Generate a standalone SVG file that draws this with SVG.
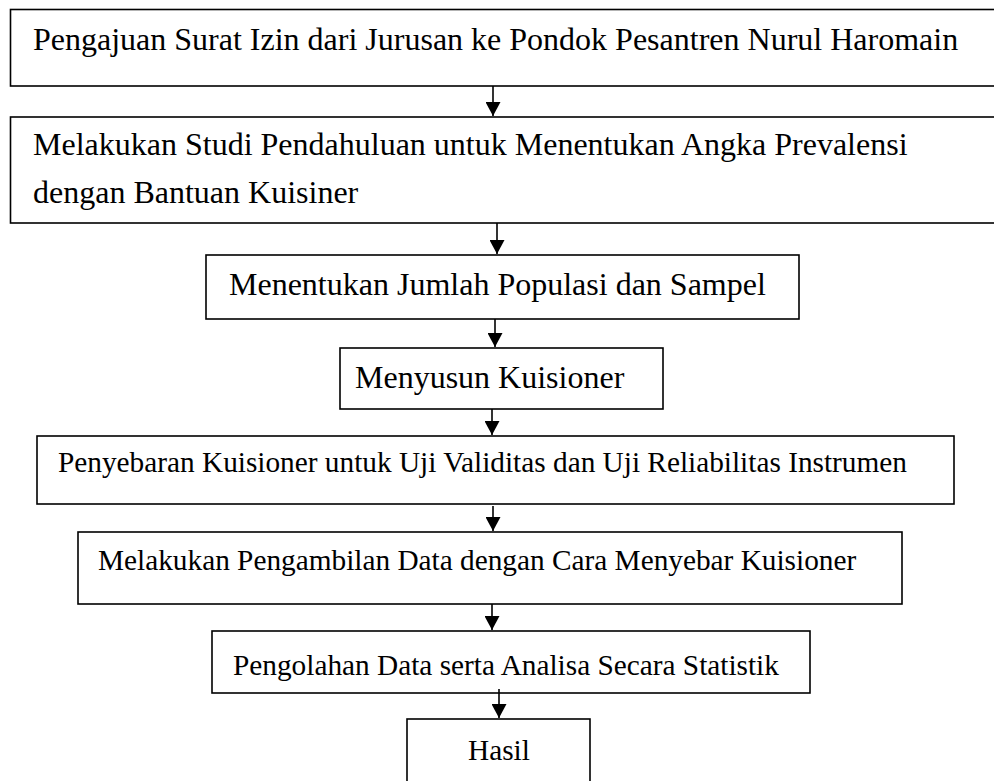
<svg xmlns="http://www.w3.org/2000/svg" width="994" height="781" viewBox="0 0 994 781">
<defs>
<style>
.box{fill:#fff;stroke:#000;stroke-width:1.6}
.t{font-family:"Liberation Serif","Times New Roman",serif;fill:#000}
.big{font-size:32px}
.sm{font-size:29.3px}
.c{stroke:#000;stroke-width:1.6;fill:none;marker-end:url(#ah)}
</style>
<marker id="ah" markerUnits="userSpaceOnUse" markerWidth="15" markerHeight="15" refX="14" refY="7.5" orient="auto">
<path d="M0,0 L14,7.5 L0,15 z" fill="#000"/>
</marker>
</defs>
<rect width="994" height="781" fill="#fff"/>
<g id="n1"><rect class="box" x="10.5" y="9.5" width="1000" height="76.5"/><text class="t big" x="33" y="50">Pengajuan Surat Izin dari Jurusan ke Pondok Pesantren Nurul Haromain</text></g>
<g id="n2"><rect class="box" x="10.5" y="117" width="1000" height="106"/><text class="t big" x="33" y="155">Melakukan Studi Pendahuluan untuk Menentukan Angka Prevalensi</text><text class="t big" x="33" y="203">dengan Bantuan Kuisiner</text></g>
<g id="n3"><rect class="box" x="206" y="255" width="593" height="64"/><text class="t big" x="229" y="295">Menentukan Jumlah Populasi dan Sampel</text></g>
<g id="n4"><rect class="box" x="340" y="348" width="323" height="61"/><text class="t big" x="355" y="388">Menyusun Kuisioner</text></g>
<g id="n5"><rect class="box" x="37" y="436" width="917" height="68"/><text class="t sm" x="58" y="472">Penyebaran Kuisioner untuk Uji Validitas dan Uji Reliabilitas Instrumen</text></g>
<g id="n6"><rect class="box" x="78" y="532" width="824" height="72"/><text class="t sm" x="98" y="570">Melakukan Pengambilan Data dengan Cara Menyebar Kuisioner</text></g>
<g id="n7"><rect class="box" x="212" y="631" width="598" height="62"/><text class="t sm" x="233" y="675">Pengolahan Data serta Analisa Secara Statistik</text></g>
<g id="n8"><rect class="box" x="407" y="719" width="183" height="80"/><text class="t sm" x="468" y="760">Hasil</text></g>
<g id="connectors">
<line class="c" x1="493" y1="86" x2="493" y2="116"/>
<line class="c" x1="497" y1="223" x2="497" y2="254"/>
<line class="c" x1="495" y1="319" x2="495" y2="347"/>
<line class="c" x1="492" y1="409" x2="492" y2="435"/>
<line class="c" x1="493" y1="506" x2="493" y2="531"/>
<line class="c" x1="492" y1="604" x2="492" y2="630"/>
<line class="c" x1="499" y1="689" x2="499" y2="718"/>
</g>
</svg>
